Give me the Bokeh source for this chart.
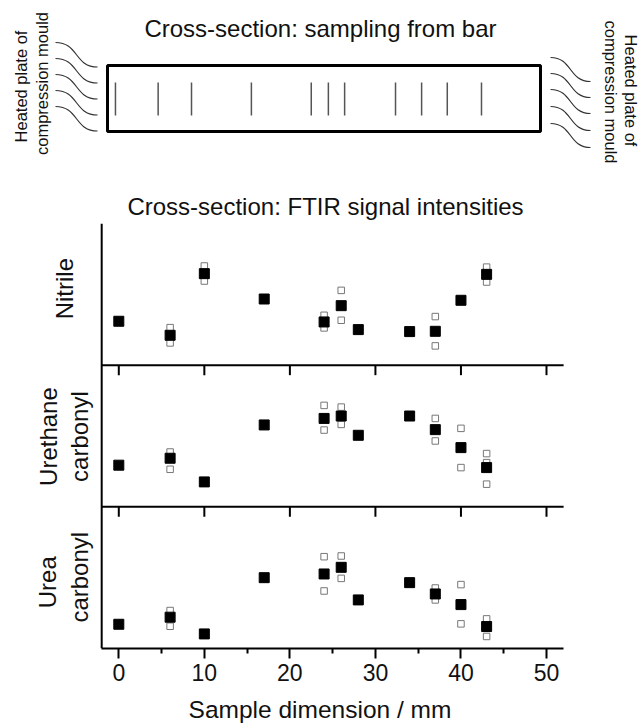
import math
from bokeh.plotting import figure
from bokeh.layouts import column
from bokeh.models import Range1d, FixedTicker
from bokeh.core.properties import value
from bokeh.embed import file_html
from bokeh.resources import INLINE

# ---------------- data ----------------
positions = [0, 6, 10, 17, 24, 26, 28, 34, 37, 40, 43]          # sample position / mm

# relative FTIR signal intensity (0 = bottom of panel, 1 = top of panel)
nitrile_mean = [0.31, 0.211, 0.646, 0.467, 0.305, 0.42, 0.251, 0.237, 0.239, 0.458, 0.641]
nitrile_rep_x = [6, 6, 10, 10, 24, 24, 26, 26, 37, 37, 43, 43]
nitrile_rep = [0.265, 0.157, 0.70, 0.594, 0.352, 0.263, 0.528, 0.317, 0.343, 0.136, 0.692, 0.587]

urethane_mean = [0.294, 0.343, 0.176, 0.578, 0.624, 0.641, 0.505, 0.641, 0.545, 0.418, 0.277]
urethane_rep_x = [6, 6, 24, 24, 26, 26, 37, 37, 40, 40, 43, 43, 43]
urethane_rep = [0.387, 0.265, 0.716, 0.542, 0.704, 0.582, 0.624, 0.465, 0.554, 0.277, 0.376, 0.312, 0.16]

urea_mean = [0.171, 0.221, 0.103, 0.50, 0.526, 0.573, 0.343, 0.465, 0.385, 0.31, 0.155]
urea_rep_x = [6, 6, 24, 24, 26, 26, 37, 37, 40, 40, 43, 43]
urea_rep = [0.268, 0.157, 0.648, 0.406, 0.653, 0.495, 0.427, 0.343, 0.451, 0.174, 0.209, 0.085]

x_ticks = [0, 10, 20, 30, 40, 50]
x_minor_ticks = [5, 15, 25, 35, 45]

# cut positions drawn in the bar sketch (mm, as drawn)
bar_cuts = [-0.39, 4.6, 8.5, 15.5, 22.5, 24.5, 26.4, 32.35, 35.4, 38.4, 42.4]

# ---------------- layout constants ----------------
FONT = "Liberation Sans"
W = 639
TOP_H = 223
PANEL_H = 503
BOTTOM_BORDER = 78
PX0 = 118.3          # pixel of x = 0
PX_PER_MM = 8.554
x_start = -PX0 / PX_PER_MM
x_end = (W - PX0) / PX_PER_MM
AX_MIN, AX_MAX = -2, 52
FRAME_H = PANEL_H - BOTTOM_BORDER
TICK_LEN = 10 * 3.0 / FRAME_H     # 10 px in panel units

def mm(px):
    return (px - PX0) / PX_PER_MM

# ---------------- top sketch ----------------
d = figure(width=W, height=TOP_H, x_range=Range1d(x_start, x_end), y_range=Range1d(TOP_H, 0),
           toolbar_location=None, output_backend="svg", min_border=0,
           x_axis_location=None, y_axis_location=None, outline_line_color=None)
d.grid.visible = False

d.quad(left=mm(107), right=mm(540), top=65, bottom=131, fill_color=None,
       line_color="black", line_width=3)
d.segment(x0=bar_cuts, y0=82, x1=bar_cuts, y1=115, line_color="#555555", line_width=1.5)

left_wave_y = [42, 58, 74, 90, 106]
right_wave_y = [57, 73, 89, 106, 123]
for ys, xa, xb, drop in [(left_wave_y, mm(55), mm(97), 24.5), (right_wave_y, mm(550), mm(590), 24)]:
    w = xb - xa
    d.bezier(x0=[xa] * 5, y0=ys, x1=[xb] * 5, y1=[y + drop for y in ys],
             cx0=[xa + 0.55 * w] * 5, cy0=ys, cx1=[xb - 0.55 * w] * 5, cy1=[y + drop for y in ys],
             line_color="#333333", line_width=1.2)

d.text(x=[mm(320)], y=[28], text=["Cross-section: sampling from bar"], text_font=value(FONT),
       text_font_size="24px", text_align="center", text_baseline="middle", text_color="#111111")
d.text(x=[mm(325)], y=[205.5], text=["Cross-section: FTIR signal intensities"], text_font=value(FONT),
       text_font_size="24px", text_align="center", text_baseline="middle", text_color="#111111")

d.text(x=[mm(20), mm(41)], y=[86, 83], text=["Heated plate of", "compression mould"],
       angle=math.pi / 2, text_font=value(FONT), text_font_size="16.5px", text_align="center",
       text_baseline="middle", text_color="#111111")
d.text(x=[mm(630), mm(610)], y=[90, 91.5], text=["Heated plate of", "compression mould"],
       angle=-math.pi / 2, text_font=value(FONT), text_font_size="16.5px", text_align="center",
       text_baseline="middle", text_color="#111111")

# ---------------- stacked panels ----------------
p = figure(width=W, height=PANEL_H, x_range=Range1d(x_start, x_end), y_range=Range1d(0, 3),
           toolbar_location=None, output_backend="svg", min_border_left=0, min_border_right=0,
           min_border_top=0, min_border_bottom=BOTTOM_BORDER, y_axis_location=None,
           outline_line_color=None)
p.grid.visible = False

ax = p.xaxis[0]
ax.bounds = (AX_MIN, AX_MAX)
ax.ticker = FixedTicker(ticks=x_ticks, minor_ticks=x_minor_ticks)
ax.axis_line_width = 2
ax.axis_line_color = "black"
ax.major_tick_line_width = 2
ax.minor_tick_line_width = 2
ax.major_tick_out = 10
ax.major_tick_in = 0
ax.minor_tick_out = 5
ax.minor_tick_in = 0
ax.major_label_text_font = FONT
ax.major_label_text_font_size = "23px"
ax.major_label_text_color = "#111111"
ax.major_label_standoff = 5
ax.axis_label = "Sample dimension / mm"
ax.axis_label_text_font = FONT
ax.axis_label_text_font_size = "24.5px"
ax.axis_label_text_font_style = "normal"
ax.axis_label_text_color = "#111111"
ax.axis_label_standoff = 12

# left axis line and the inner panel separators with their ticks
p.segment(x0=[AX_MIN], y0=[0], x1=[AX_MIN], y1=[3], line_color="black", line_width=2)
for level in (1, 2):
    p.segment(x0=[AX_MIN], y0=[level], x1=[AX_MAX], y1=[level], line_color="black", line_width=2)
    p.segment(x0=x_ticks, y0=[level] * len(x_ticks), x1=x_ticks,
              y1=[level - TICK_LEN] * len(x_ticks), line_color="black", line_width=2)

panels = [
    (2, nitrile_mean, nitrile_rep_x, nitrile_rep),
    (1, urethane_mean, urethane_rep_x, urethane_rep),
    (0, urea_mean, urea_rep_x, urea_rep),
]
for off, mean, rx, ry in panels:
    p.scatter(x=rx, y=[off + v for v in ry], marker="square", size=6.5, fill_color="white",
              line_color="#777777", line_width=1)
    p.scatter(x=positions, y=[off + v for v in mean], marker="square", size=10,
              fill_color="black", line_color="black")

lab = dict(text_font=value(FONT), text_font_size="24px", text_align="center",
           text_baseline="middle", text_color="#111111", angle=math.pi / 2)
p.text(x=[mm(64)], y=[2.54], text=["Nitrile"], **lab)
p.text(x=[mm(47.5), mm(79)], y=[1.496, 1.496], text=["Urethane", "carbonyl"], **lab)
p.text(x=[mm(47), mm(79)], y=[0.468, 0.503], text=["Urea", "carbonyl"], **lab)

layout = column(d, p, spacing=0)
open("out.html", "w").write(file_html(layout, INLINE))
